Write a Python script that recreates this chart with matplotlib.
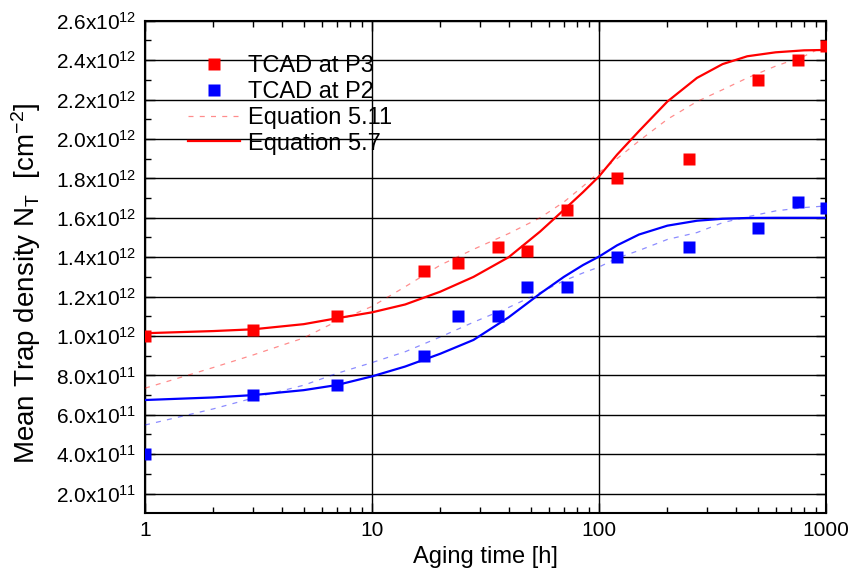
import matplotlib
matplotlib.use("Agg")
import matplotlib.pyplot as plt
import numpy as np
from matplotlib.ticker import FixedLocator, FuncFormatter, LogLocator, NullFormatter

plt.rcParams['font.family'] = ['Liberation Sans', 'DejaVu Sans']
plt.rcParams['mathtext.fontset'] = 'custom'
plt.rcParams['mathtext.rm'] = 'Liberation Sans'
plt.rcParams['mathtext.it'] = 'Liberation Sans:italic'
plt.rcParams['mathtext.default'] = 'regular'

# values in units of 1e12 cm^-2
scale = 1e12

# TCAD simulation points
t_tcad = [1, 3, 7, 17, 24, 36, 48, 72, 120, 250, 500, 750, 1000]
tcad_p3 = [1.00, 1.03, 1.10, 1.33, 1.37, 1.45, 1.43, 1.64, 1.80, 1.90, 2.30, 2.40, 2.47]
tcad_p2 = [0.40, 0.70, 0.75, 0.90, 1.10, 1.10, 1.25, 1.25, 1.40, 1.45, 1.55, 1.68, 1.65]

# model curves
t_eq = [1, 2, 3, 5, 7, 10, 14, 20, 28, 40, 55, 70, 85, 100, 120, 150, 200, 270, 350, 450, 600, 800, 1000]
eq57_p3 = [1.014, 1.025, 1.034, 1.06, 1.09, 1.12, 1.16, 1.225, 1.30, 1.40, 1.53, 1.64, 1.73, 1.81,
           1.92, 2.04, 2.19, 2.31, 2.38, 2.42, 2.44, 2.45, 2.452]
eq511_p3 = [0.735, 0.84, 0.904, 0.99, 1.075, 1.15, 1.25, 1.36, 1.44, 1.52, 1.60, 1.68, 1.76, 1.83,
            1.90, 1.99, 2.10, 2.19, 2.25, 2.31, 2.37, 2.42, 2.475]
eq57_p2 = [0.675, 0.688, 0.70, 0.725, 0.751, 0.795, 0.845, 0.91, 0.98, 1.095, 1.215, 1.30, 1.36, 1.403,
           1.46, 1.515, 1.56, 1.585, 1.595, 1.599, 1.60, 1.60, 1.60]
eq511_p2 = [0.548, 0.63, 0.685, 0.75, 0.81, 0.865, 0.92, 0.995, 1.07, 1.145, 1.22, 1.28, 1.32, 1.35,
            1.395, 1.434, 1.49, 1.525, 1.575, 1.605, 1.635, 1.652, 1.66]

y_ticks = [0.2, 0.4, 0.6, 0.8, 1.0, 1.2, 1.4, 1.6, 1.8, 2.0, 2.2, 2.4, 2.6]

fig = plt.figure(figsize=(8.55, 5.76), dpi=100)
ax = fig.add_axes([0.1696, 0.1094, 0.7965, 0.8545])

red = '#ff0000'
blue = '#0000ff'
dash = (0, (4, 5))

def sc(v):
    return np.array(v) * scale

ax.plot(t_eq, sc(eq511_p3), color=red, lw=0.9, ls=dash, alpha=0.45, label='Equation 5.11', zorder=3)
ax.plot(t_eq, sc(eq511_p2), color=blue, lw=0.9, ls=dash, alpha=0.45, zorder=3)
ax.plot(t_eq, sc(eq57_p3), color=red, lw=1.6, label='Equation 5.7', zorder=4)
ax.plot(t_eq, sc(eq57_p2), color=blue, lw=1.6, zorder=4)
ax.plot(t_tcad, sc(tcad_p3), ls='none', marker='s', ms=8.5, color=red, mec='none', label='TCAD at P3', zorder=5)
ax.plot(t_tcad, sc(tcad_p2), ls='none', marker='s', ms=8.5, color=blue, mec='none', label='TCAD at P2', zorder=5)

ax.set_xscale('log')
ax.set_xlim(1, 1000)
ax.set_ylim(0.1015 * scale, 2.6 * scale)

ax.xaxis.set_major_locator(FixedLocator([1, 10, 100, 1000]))
ax.xaxis.set_major_formatter(FuncFormatter(lambda v, p: '%d' % v))
ax.xaxis.set_minor_locator(LogLocator(base=10, subs=np.arange(2, 10)))
ax.xaxis.set_minor_formatter(NullFormatter())


def fmt_y(v, pos):
    e = int(np.floor(np.log10(v) + 1e-9))
    m = v / 10 ** e
    return '%.1fx10$^{%d}$' % (m, e)


ax.yaxis.set_major_locator(FixedLocator(sc(y_ticks)))
ax.yaxis.set_major_formatter(FuncFormatter(fmt_y))
ax.yaxis.set_minor_locator(FixedLocator(sc(np.array(y_ticks) - 0.1)))

ax.tick_params(which='both', direction='in', top=True, right=True, labelsize=15, pad=6)
ax.tick_params(which='major', length=7, width=1)
ax.tick_params(which='minor', length=4, width=1)
for s in ax.spines.values():
    s.set_linewidth(1.5)

ax.grid(True, which='major', color='black', lw=1)

ax.set_xlabel('Aging time [h]', fontsize=17, labelpad=4)
ax.set_ylabel('Mean Trap density N$_T$  [cm$^{-2}$]', fontsize=20)
ax.yaxis.set_label_coords(-0.15, 0.467)

handles, labels = ax.get_legend_handles_labels()
order = [2, 3, 0, 1]
ax.legend([handles[i] for i in order], [labels[i] for i in order], loc='upper left',
          bbox_to_anchor=(0.063, 0.93), frameon=False, fontsize=17, numpoints=1,
          borderpad=0, borderaxespad=0,
          handlelength=2.2, handletextpad=0.34, labelspacing=0.16)

fig.savefig('out.png', dpi=100)
